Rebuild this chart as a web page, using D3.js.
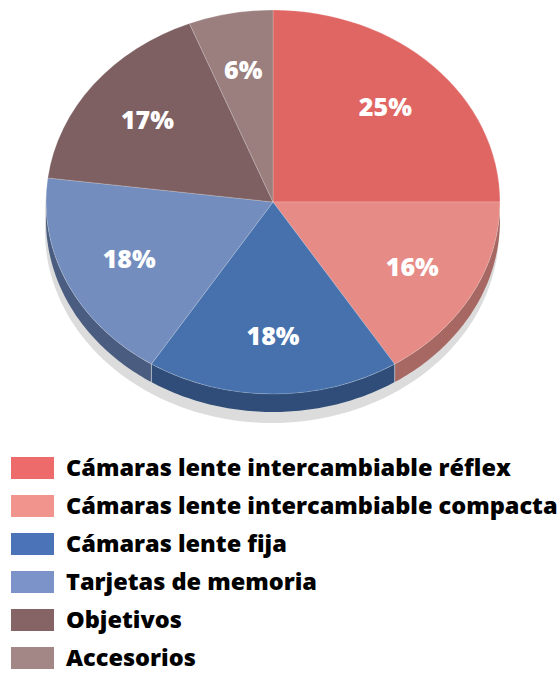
<!DOCTYPE html>
<html>
<head>
<meta charset="utf-8">
<script src="https://cdn.jsdelivr.net/npm/d3@7"></script>
<style>
  body { margin: 0; background: #fff; }
  text { font-family: "Open Sans", sans-serif; font-weight: 800; }
</style>
</head>
<body>
<div id="chart"></div>
<script>
// data
const categories = [
    "Cámaras lente intercambiable réflex",
    "Cámaras lente intercambiable compacta",
    "Cámaras lente fija",
    "Tarjetas de memoria",
    "Objetivos",
    "Accesorios"
];
const shares = [25, 16, 18, 18, 17, 6];
const labels = ["25%", "16%", "18%", "18%", "17%", "6%"];

// colours
const faceColors = ["#e06664", "#e68b86", "#4671ad", "#738dbe", "#7e6062", "#9b7f7f"];
const sideColors = ["#a65e5c", "#a76863", "#2f4d78", "#4a5d80", "#5c4446", "#735d5d"];
const legendColors = ["#ed6b6b", "#f2948e", "#4a74b7", "#7b93c8", "#866466", "#a38787"];

const W = 559, H = 674;
const cx = 273, cy = 202, rx = 227, ry = 192, depth = 18;

const svg = d3.select("#chart").append("svg")
    .attr("width", W)
    .attr("height", H);

const slices = d3.pie().sort(null).value(d => d)(shares);

// point on the top ellipse, angle 0 = 12 o'clock, clockwise
const pt = (a, dy) => [cx + rx * Math.sin(a), cy - ry * Math.cos(a) + dy];
const line = d3.line();

// shadow under the whole body
let body = [];
d3.range(0, 181).forEach(i => body.push(pt(-Math.PI / 2 + i / 180 * Math.PI, 0)));
d3.range(0, 181).forEach(i => body.push(pt(Math.PI / 2 + i / 180 * Math.PI, depth)));
svg.append("path")
    .attr("d", line(body) + "Z")
    .attr("transform", "translate(-1,11)")
    .attr("fill", "#dcdcdc");

// sides (only the front half is visible)
const sides = svg.append("g");
slices.forEach((s, i) => {
    const lo = Math.max(s.startAngle, Math.PI / 2);
    const hi = Math.min(s.endAngle, 3 * Math.PI / 2);
    if (hi <= lo) return;
    const n = Math.max(2, Math.ceil((hi - lo) * 60));
    const a = d3.range(0, n + 1).map(k => lo + (hi - lo) * k / n);
    const pts = a.map(v => pt(v, 0)).concat(a.slice().reverse().map(v => pt(v, depth)));
    sides.append("path")
        .attr("d", line(pts) + "Z")
        .attr("fill", sideColors[i]);
    // thin light seam at slice edges
    [lo, hi].forEach(v => {
        if (v === Math.PI / 2 || v === 3 * Math.PI / 2) return;
        sides.append("path")
            .attr("d", line([pt(v, 0), pt(v, depth)]))
            .attr("stroke", "rgba(255,255,255,0.35)")
            .attr("stroke-width", 1);
    });
});

// top faces
const arc = d3.arc().innerRadius(0).outerRadius(rx);
const faces = svg.append("g")
    .attr("transform", `translate(${cx},${cy}) scale(1,${ry / rx})`);
faces.selectAll("path")
    .data(slices)
    .join("path")
    .attr("d", arc)
    .attr("fill", (d, i) => faceColors[i])
    .attr("stroke", "rgba(255,255,255,0.25)")
    .attr("stroke-width", 0.8)
    .attr("vector-effect", "non-scaling-stroke");

// percentage labels
const labelArc = d3.arc().innerRadius(0).outerRadius(rx * 0.7 * 2);
svg.append("g").selectAll("text")
    .data(slices)
    .join("text")
    .attr("x", d => cx + labelArc.centroid(d)[0])
    .attr("y", d => cy + labelArc.centroid(d)[1] * ry / rx)
    .attr("dy", "0.36em")
    .attr("text-anchor", "middle")
    .attr("fill", "#fff")
    .attr("font-size", 25)
    .text((d, i) => labels[i]);

// legend
const legend = svg.append("g").attr("transform", "translate(11,457)");
const rowH = 38;
const rows = legend.selectAll("g")
    .data(categories)
    .join("g")
    .attr("transform", (d, i) => `translate(0,${i * rowH})`);
rows.append("rect")
    .attr("width", 43)
    .attr("height", 22)
    .attr("fill", (d, i) => legendColors[i]);
rows.append("text")
    .attr("x", 55)
    .attr("y", 11)
    .attr("dy", "0.34em")
    .attr("font-size", 23.5)
    .attr("fill", "#000")
    .text(d => d);
</script>
</body>
</html>
